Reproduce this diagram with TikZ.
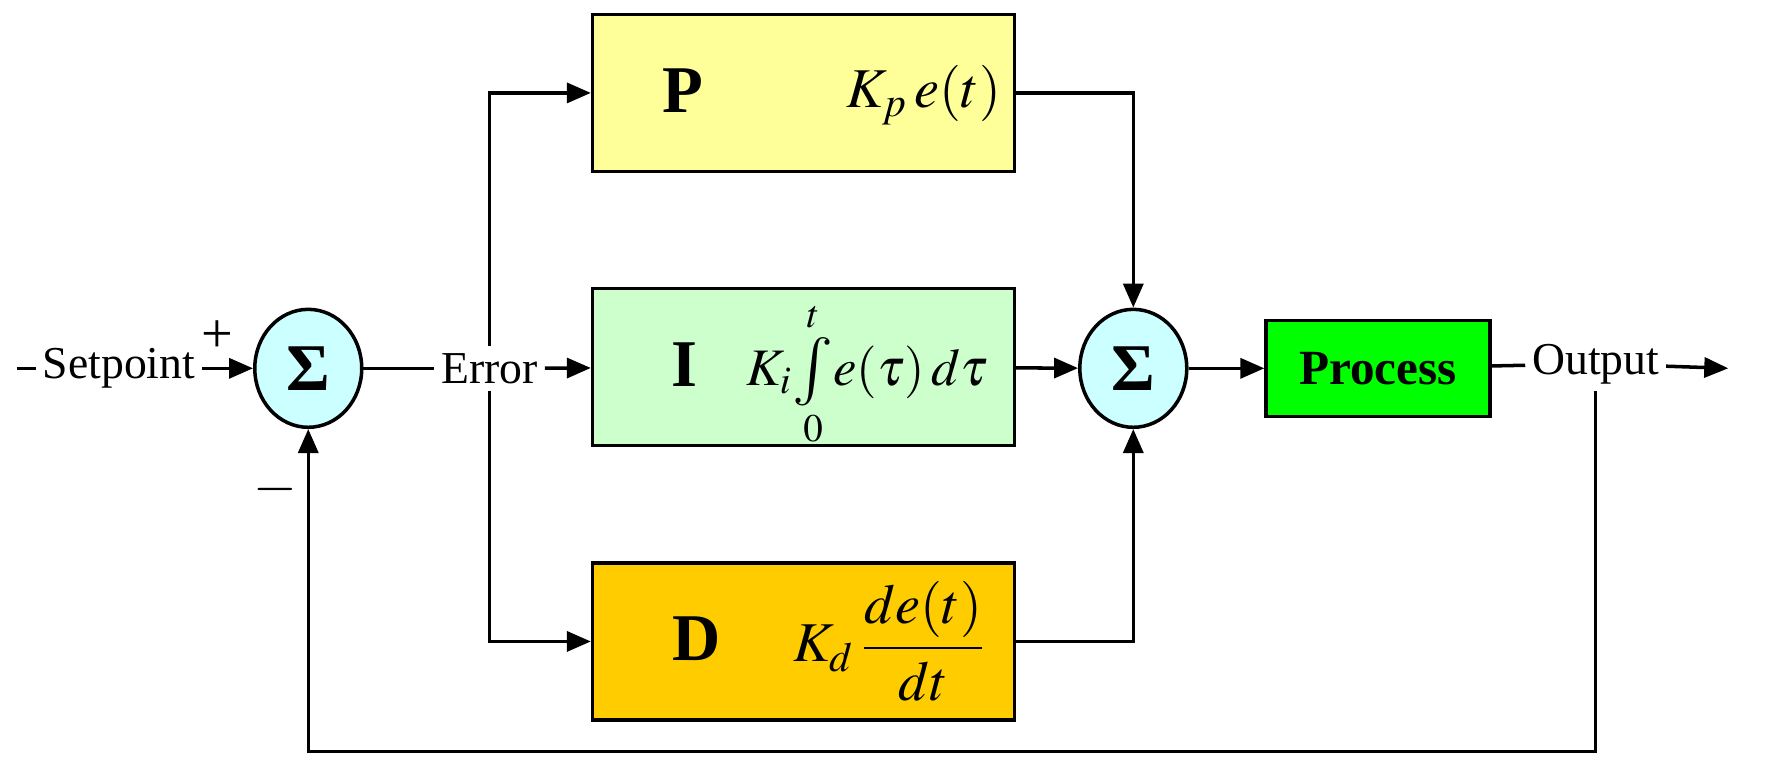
\documentclass[tikz,border=0pt]{standalone}
\usepackage{mathptmx}
\usepackage[no-math]{fontspec}
\setmainfont{Liberation Serif}
\usepackage{amsmath}
\usetikzlibrary{arrows.meta, positioning, shapes.geometric}

\definecolor{sumcyan}{RGB}{204,255,255}
\definecolor{pyellow}{RGB}{255,255,153}
\definecolor{igreen}{RGB}{204,255,204}
\definecolor{dorange}{RGB}{255,204,0}
\definecolor{procgreen}{RGB}{0,255,0}

\newcommand{\bigint}{\mathop{\vcenter{\hbox{\scalebox{1.3}{$\int$}}}}\limits}

\begin{document}
\begin{tikzpicture}[x=0.011333cm, y=-0.011333cm,
			>={Triangle[length=0.24cm, width=0.2cm]},
			line width=1pt,
			font=\fontsize{13}{15}\selectfont,
			sumnode/.style={ellipse, draw, fill=sumcyan, minimum width=1.07cm, minimum height=1.18cm, inner sep=0pt, font=\bfseries\fontsize{19}{19}\selectfont},
			block/.style={rectangle, draw, minimum width=4.22cm, minimum height=1.57cm, inner sep=0pt},
			letter/.style={font=\bfseries\fontsize{19}{19}\selectfont},
			formula/.style={font=\fontsize{16}{18}\selectfont, inner sep=0pt},
			lbl/.style={inner sep=1.5pt}]

			\useasboundingbox (0,0) rectangle (1568,682);

			\node[sumnode] (s1) at (272,325) {Σ};
			\node[sumnode] (s2) at (1000,325) {Σ};
			\node[block, fill=pyellow] (p) at (709,82) {};
			\node[block, fill=igreen] (i) at (709,324) {};
			\node[block, fill=dorange] (d) at (709,566) {};
			\node[rectangle, draw, fill=procgreen, minimum width=2.24cm, minimum height=0.96cm, font=\bfseries\fontsize{14}{16}\selectfont] (proc) at (1216,325) {Process};

			\node[letter] (pl) at (603,80) {P};
			\node[formula] (pf) at (815,84) {$K_{p}\,e(t)$};
			\node[letter] (il) at (604,322) {I};
			\node[formula, font=\fontsize{15}{17}\selectfont] (if) at (765,330) {$K_{i}\!\bigint_{0}^{t}\! e(\tau)\,d\tau$};
			\node[letter] (dl) at (615,564) {D};
			\node[formula] (df) at (785,566) {$K_{d}\,\dfrac{de(t)}{dt}$};

			\coordinate (start) at (15,325);
			\node[lbl] (sp) at (105,325) {Setpoint};
			\node[lbl, font=\fontsize{16}{16}\selectfont] (plus) at (192,297) {+};
			\node[lbl, font=\fontsize{16}{16}\selectfont] (minus) at (243,432) {$-$};
			\node[lbl] (err) at (432,325) {Error};
			\node[lbl] (out) at (1408,321) {Output};
			\coordinate (end) at (1525,325);
			\coordinate (fb) at (1410,663);

			\draw (start) -- (sp);
			\draw[->] (sp) -- (s1);
			\draw (s1) -- (err);
			\draw[->] (err) -- (i);
			\draw[->] (err) |- (p);
			\draw[->] (err) |- (d);
			\draw[->] (p) -| (s2);
			\draw[->] (i) -- (s2);
			\draw[->] (d) -| (s2);
			\draw[->] (s2) -- (proc);
			\draw (proc) -- (out);
			\draw[->] (out) -- (end);
			\draw[->] (out) -- (out |- fb) -| (s1);
		\end{tikzpicture}
\end{document}
